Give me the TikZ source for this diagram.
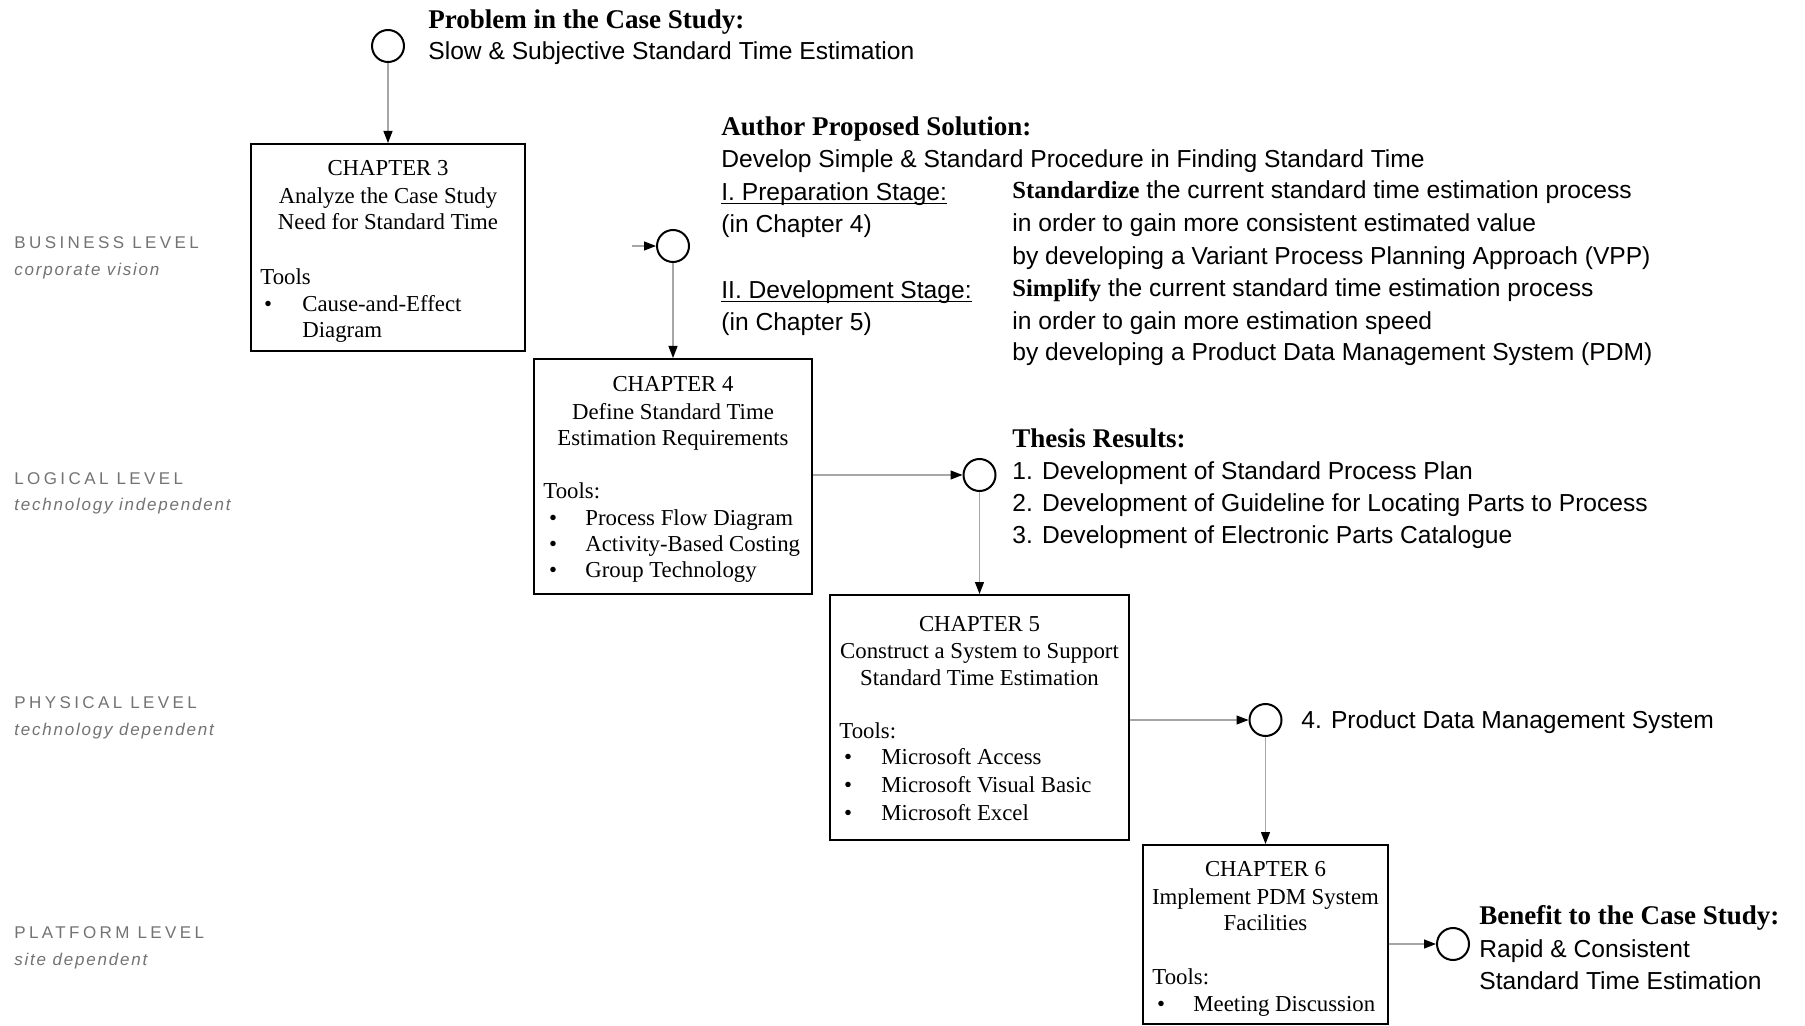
\documentclass[tikz,border=0pt]{standalone}
\usepackage{fontspec}
\setmainfont{Liberation Serif}
\newfontfamily\sansf{Liberation Sans}
\newfontfamily\lvlf[LetterSpace=20]{Liberation Sans}
\newfontfamily\lvlif[LetterSpace=10.5]{Liberation Sans}
\usetikzlibrary{arrows.meta}
\tikzset{
  chapbox/.style={draw=black, line width=1pt, rectangle, inner sep=0pt},
  ring/.style={draw=black, line width=1pt, circle, inner sep=0pt, minimum size=16pt},
  flow/.style={draw=black!35, line width=0.6pt, -{Triangle[length=6pt,width=4.5pt,color=black]}},
  ctxt/.style={anchor=mid, inner sep=0pt, yshift=-2pt, font=\fontsize{11.4}{13}\selectfont},
  ltxt/.style={anchor=mid west, inner sep=0pt, yshift=-2pt, font=\fontsize{11.4}{13}\selectfont},
  bul/.style={anchor=mid, inner sep=0pt, yshift=-2pt, font=\fontsize{11.4}{13}\selectfont},
  stxt/.style={anchor=mid west, inner sep=0pt, yshift=-2pt, font=\sansf\fontsize{12.3}{14}\selectfont},
  hd/.style={anchor=mid west, inner sep=0pt, yshift=-2pt, font=\bfseries\fontsize{13.5}{15}\selectfont},
  lvl/.style={anchor=mid west, inner sep=0pt, yshift=-0.8pt, text=black!55, font=\lvlf\fontsize{8.5}{10}\selectfont},
  lvlsub/.style={anchor=mid west, inner sep=0pt, yshift=-0.8pt, text=black!55, font=\lvlif\itshape\fontsize{8.5}{10}\selectfont},
}
\newcommand{\bw}[1]{{\rmfamily\bfseries #1}}
\newcommand{\ul}[1]{\underline{\smash{#1}}}
\begin{document}
\begin{tikzpicture}[x=0.5pt,y=-0.5pt]
\useasboundingbox[fill=white] (0,0) rectangle (1805,1026);

% level labels
\node[lvl] (l1) at (14,242) {BUSINESS LEVEL};
\node[lvlsub] (l1s) at (14,269) {corporate vision};
\node[lvl] (l2) at (14,478) {LOGICAL LEVEL};
\node[lvlsub] (l2s) at (14,504) {technology independent};
\node[lvl] (l3) at (14,702) {PHYSICAL LEVEL};
\node[lvlsub] (l3s) at (14,729) {technology dependent};
\node[lvl] (l4) at (14,932) {PLATFORM LEVEL};
\node[lvlsub] (l4s) at (14,959) {site dependent};

% circles
\node[ring] (c1) at (388,46) {};
\node[ring] (c2) at (673,246) {};
\node[ring] (c3) at (979.5,475) {};
\node[ring] (c4) at (1265.5,720) {};
\node[ring] (c5) at (1453,944) {};
\coordinate (s2) at (632,246);

% boxes
\node[chapbox, minimum width=137pt, minimum height=103.5pt] (ch3) at (388,247.5) {};
\node[chapbox, minimum width=139pt, minimum height=117.5pt] (ch4) at (673,476.5) {};
\node[chapbox, minimum width=149.5pt, minimum height=122.5pt] (ch5) at (979.5,717.5) {};
\node[chapbox, minimum width=122.5pt, minimum height=89.5pt] (ch6) at (1265.5,934.5) {};

% chapter 3 text
\node[ctxt] (t31) at (388,167) {CHAPTER 3};
\node[ctxt] (t32) at (388,195) {Analyze the Case Study};
\node[ctxt] (t33) at (388,221) {Need for Standard Time};
\node[ltxt] (t34) at (260,276) {Tools};
\node[bul] (b31) at (268,303) {\textbullet};
\node[ltxt] (t35) at (302,303) {Cause-and-Effect};
\node[ltxt] (t36) at (302,329) {Diagram};

% chapter 4 text
\node[ctxt] (t41) at (673,383) {CHAPTER 4};
\node[ctxt] (t42) at (673,411) {Define Standard Time};
\node[ctxt] (t43) at (673,437) {Estimation Requirements};
\node[ltxt] (t44) at (543,490) {Tools:};
\node[bul] (b41) at (553,517) {\textbullet};
\node[bul] (b42) at (553,543) {\textbullet};
\node[bul] (b43) at (553,569) {\textbullet};
\node[ltxt] (t45) at (585,517) {Process Flow Diagram};
\node[ltxt] (t46) at (585,543) {Activity-Based Costing};
\node[ltxt] (t47) at (585,569) {Group Technology};

% chapter 5 text
\node[ctxt] (t51) at (979.5,623) {CHAPTER 5};
\node[ctxt] (t52) at (979.5,650) {Construct a System to Support};
\node[ctxt] (t53) at (979.5,677) {Standard Time Estimation};
\node[ltxt] (t54) at (839,730) {Tools:};
\node[bul] (b51) at (848,756) {\textbullet};
\node[bul] (b52) at (848,784) {\textbullet};
\node[bul] (b53) at (848,812) {\textbullet};
\node[ltxt] (t55) at (881,756) {Microsoft Access};
\node[ltxt] (t56) at (881,784) {Microsoft Visual Basic};
\node[ltxt] (t57) at (881,812) {Microsoft Excel};

% chapter 6 text
\node[ctxt] (t61) at (1265.5,868) {CHAPTER 6};
\node[ctxt] (t62) at (1265.5,896) {Implement PDM System};
\node[ctxt] (t63) at (1265.5,922) {Facilities};
\node[ltxt] (t64) at (1152,976) {Tools:};
\node[bul] (b61) at (1161,1003) {\textbullet};
\node[ltxt] (t65) at (1193,1003) {Meeting Discussion};

% problem
\node[hd] (p1) at (428,20) {Problem in the Case Study:};
\node[stxt] (p2) at (428,51) {Slow \& Subjective Standard Time Estimation};

% solution
\node[hd] (a1) at (721,127) {Author Proposed Solution:};
\node[stxt] (a2) at (721,159) {Develop Simple \& Standard Procedure in Finding Standard Time};
\node[stxt] (a3) at (721,192) {\ul{I. Preparation Stage:}};
\node[stxt] (a4) at (721,224) {(in Chapter 4)};
\node[stxt] (a5) at (721,290) {\ul{II. Development Stage:}};
\node[stxt] (a6) at (721,322) {(in Chapter 5)};
\node[stxt] (r1) at (1012,190) {\bw{Standardize} the current standard time estimation process};
\node[stxt] (r2) at (1012,223) {in order to gain more consistent estimated value};
\node[stxt] (r3) at (1012,256) {by developing a Variant Process Planning Approach (VPP)};
\node[stxt] (r4) at (1012,288) {\bw{Simplify} the current standard time estimation process};
\node[stxt] (r5) at (1012,321) {in order to gain more estimation speed};
\node[stxt] (r6) at (1012,352) {by developing a Product Data Management System (PDM)};

% thesis results
\node[hd] (h1) at (1012,439) {Thesis Results:};
\node[stxt] (h2) at (1012,471) {1. Development of Standard Process Plan};
\node[stxt] (h3) at (1012,503) {2. Development of Guideline for Locating Parts to Process};
\node[stxt] (h4) at (1012,535) {3. Development of Electronic Parts Catalogue};

\node[stxt] (pdm) at (1301,720) {4. Product Data Management System};

% benefit
\node[hd] (e1) at (1479,916) {Benefit to the Case Study:};
\node[stxt] (e2) at (1479,949) {Rapid \& Consistent};
\node[stxt] (e3) at (1479,981) {Standard Time Estimation};

% connectors
\draw[flow] (c1.south) -- (ch3.north);
\draw[flow] (s2) -- (c2.west);
\draw[flow] (c2.south) -- (ch4.north);
\draw[flow] (ch4.east |- c3) -- (c3.west);
\draw[flow] (c3.south) -- (ch5.north);
\draw[flow] (ch5.east |- c4) -- (c4.west);
\draw[flow] (c4.south) -- (ch6.north);
\draw[flow] (ch6.east |- c5) -- (c5.west);
\end{tikzpicture}
\end{document}
